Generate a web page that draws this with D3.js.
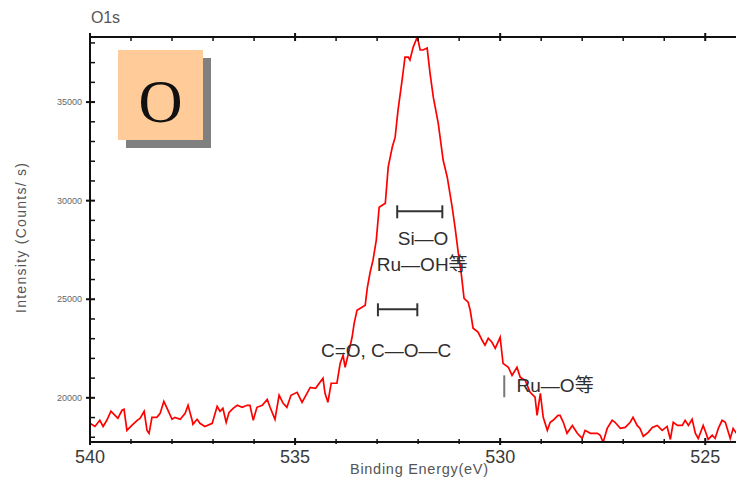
<!DOCTYPE html>
<html><head><meta charset="utf-8">
<script src="https://cdn.jsdelivr.net/npm/d3@7"></script>
<style>body{margin:0;background:#fff;overflow:hidden}</style>
</head><body><svg id="c" width="736" height="478"></svg>
<script>
// ---- data ----
const energy = [540.00,539.88,539.76,539.68,539.59,539.49,539.39,539.32,539.22,539.17,539.10,538.98,538.85,538.78,538.68,538.61,538.56,538.49,538.37,538.29,538.20,538.12,538.00,537.93,537.80,537.68,537.61,537.51,537.49,537.39,537.32,537.20,537.02,536.90,536.83,536.76,536.68,536.61,536.51,536.41,536.29,536.17,536.10,536.02,535.93,535.80,535.68,535.61,535.49,535.39,535.29,535.20,535.10,534.95,534.83,534.63,534.50,534.32,534.27,534.20,534.12,533.98,533.90,533.83,533.78,533.71,533.61,533.56,533.49,533.37,533.29,533.24,533.17,533.10,533.02,532.95,532.80,532.73,532.63,532.56,532.49,532.39,532.32,532.24,532.20,532.12,532.02,531.95,531.88,531.78,531.71,531.63,531.51,531.39,531.29,531.17,531.10,531.02,530.95,530.88,530.78,530.73,530.66,530.54,530.44,530.37,530.29,530.20,530.12,530.00,529.93,529.80,529.71,529.59,529.51,529.39,529.27,529.15,529.10,529.02,528.95,528.85,528.78,528.71,528.59,528.54,528.46,528.37,528.24,528.12,528.00,527.93,527.80,527.63,527.56,527.49,527.39,527.27,527.20,527.07,526.95,526.83,526.76,526.66,526.59,526.51,526.39,526.29,526.17,526.05,525.93,525.85,525.78,525.68,525.56,525.49,525.41,525.32,525.24,525.17,525.05,524.98,524.93,524.83,524.76,524.68,524.59,524.51,524.39,524.32,524.24];
const counts = [18710,18550,18860,18550,18860,19320,19110,18960,19370,19420,18350,18600,18860,18960,19320,18350,18200,19010,19010,19210,19820,19470,18910,19010,18910,19210,19620,18860,18660,18910,18710,18550,18710,19570,19320,19470,18760,19260,19470,19620,19520,19620,19620,18860,19520,19620,19920,19520,18910,20130,19720,19520,20130,20280,19770,20530,20480,20990,20230,19770,20740,20740,21750,22160,21550,22160,23070,23780,24440,24590,24700,25560,26370,26980,28000,29670,29870,31700,32720,33220,34590,36120,37280,37280,37130,37790,38300,37640,37640,37740,36470,35250,33930,32060,31190,29670,28650,27340,26320,25050,24850,24440,23530,23330,22920,22670,23020,22820,22510,23070,21750,21550,21140,21550,21040,20890,20280,20030,19110,20230,19010,18350,18760,18860,19110,19110,18760,18200,18600,18200,17940,18350,18200,18200,18100,17740,18450,18860,18760,18450,18500,18760,19010,18600,18450,18050,18250,18500,18600,18350,18550,17890,18760,18600,18600,18860,18600,18910,18200,17940,18600,18200,17890,18100,17940,18450,18860,18760,17940,18450,18200];

const xDomain = [540, 524.25];
const yDomain = [17760, 38300];
const xMajorTicks = [540, 535, 530, 525];
const xTickLabels = ["540", "535", "530", "525"];
const yMajorTicks = [20000, 25000, 30000, 35000];
const yTickLabels = ["20000", "25000", "30000", "35000"];
const xMinorTicks = [539,538,537,536,534,533,532,531,529,528,527,526];
const yMinorTicks = [18000,19000,21000,22000,23000,24000,26000,27000,28000,29000,31000,32000,33000,34000,36000,37000,38000];

const titleText = "O1s";
const xTitle = "Binding Energy(eV)";
const yTitle = "Intensity (Counts/ s)";
const badgeText = "O";

// range bars (energy from, energy to, count level)
const barFrom = [532.51, 532.98];
const barTo = [531.41, 532.02];
const barLevel = [29460, 24490];
// annotation labels
const noteTexts = ["Si—O", "Ru—OH等", "C=O, C—O—C", "Ru—O等"];
const noteEnergy = [531.88, 531.90, 532.78, 528.66];
const noteCounts = [28100, 26780, 22410, 20640];
// marker for Ru-O
const markEnergy = 529.90;
const markCounts = [21140, 20030];

// ---- drawing ----
const svg = d3.select("#c");
const W = 736, H = 478;
const L = 90, R = 736, T = 37, B = 442;
const x = d3.scaleLinear().domain(xDomain).range([L, R]);
const y = d3.scaleLinear().domain(yDomain).range([B, T]);

svg.append("rect").attr("width", W).attr("height", H).attr("fill", "#fff");

svg.append("defs").append("clipPath").attr("id", "plot")
  .append("rect").attr("x", L).attr("y", T).attr("width", R - L).attr("height", B - T);

// badge
svg.append("rect").attr("x", 126).attr("y", 58).attr("width", 85).attr("height", 90).attr("fill", "#808080");
svg.append("rect").attr("x", 118).attr("y", 50).attr("width", 85).attr("height", 90).attr("fill", "#FFCC99");
svg.append("text").attr("x", 160.5).attr("y", 122).attr("text-anchor", "middle")
  .attr("font-family", "Liberation Serif, serif").attr("font-size", 61).attr("fill", "#111").text(badgeText);

// data line
const pts = energy.map((e, i) => [e, counts[i]]);
svg.append("path").attr("clip-path", "url(#plot)")
  .attr("d", d3.line().x(d => x(d[0])).y(d => y(d[1]))(pts))
  .attr("fill", "none").attr("stroke", "#ff0000").attr("stroke-width", 1.7).attr("stroke-linejoin", "miter");

// axes lines
const ax = svg.append("g").attr("stroke", "#111").attr("stroke-width", 2);
ax.append("line").attr("x1", L).attr("x2", R).attr("y1", B).attr("y2", B);
ax.append("line").attr("x1", L).attr("x2", R).attr("y1", T).attr("y2", T);
ax.append("line").attr("x1", L).attr("x2", L).attr("y1", T - 4).attr("y2", B + 3);

// x ticks bottom & top
xMajorTicks.forEach(v => {
  ax.append("line").attr("x1", x(v)).attr("x2", x(v)).attr("y1", B - 4).attr("y2", B + 3);
  ax.append("line").attr("x1", x(v)).attr("x2", x(v)).attr("y1", T - 4).attr("y2", T + 4);
});
xMinorTicks.forEach(v => {
  ax.append("line").attr("x1", x(v)).attr("x2", x(v)).attr("y1", B - 3).attr("y2", B + 2).attr("stroke-width", 1.5);
  ax.append("line").attr("x1", x(v)).attr("x2", x(v)).attr("y1", T).attr("y2", T + 4).attr("stroke-width", 1.5);
});
// y ticks
yMajorTicks.forEach(v => {
  ax.append("line").attr("x1", L - 4).attr("x2", L + 5).attr("y1", y(v)).attr("y2", y(v));
});
yMinorTicks.forEach(v => {
  ax.append("line").attr("x1", L).attr("x2", L + 5).attr("y1", y(v)).attr("y2", y(v)).attr("stroke-width", 1.5);
});

// tick labels
svg.append("g").selectAll("text").data(xMajorTicks).join("text")
  .attr("x", d => x(d)).attr("y", 463).attr("text-anchor", "middle")
  .attr("font-family", "Liberation Sans, Arial, sans-serif").attr("font-size", 18).attr("fill", "#3a3a3a")
  .text((d, i) => xTickLabels[i]);
svg.append("g").selectAll("text").data(yMajorTicks).join("text")
  .attr("x", 82).attr("y", d => y(d)).attr("dy", "0.35em").attr("text-anchor", "end")
  .attr("font-family", "Liberation Sans, Arial, sans-serif").attr("font-size", 9).attr("fill", "#666")
  .text((d, i) => yTickLabels[i]);

// titles
svg.append("text").attr("x", 91).attr("y", 23).attr("font-family", "Liberation Sans, Arial, sans-serif")
  .attr("font-size", 16).attr("fill", "#555").attr("textLength", 29).attr("lengthAdjust", "spacing").text(titleText);
svg.append("text").attr("x", 350).attr("y", 474)
  .attr("font-family", "Liberation Sans, Arial, sans-serif").attr("font-size", 14.5).attr("fill", "#555")
  .attr("textLength", 138).attr("lengthAdjust", "spacing").text(xTitle);
svg.append("text").attr("transform", "translate(26,313) rotate(-90)")
  .attr("font-family", "Liberation Sans, Arial, sans-serif").attr("font-size", 14).attr("fill", "#555")
  .attr("textLength", 150).attr("lengthAdjust", "spacing").text(yTitle);

// range bars
const bars = svg.append("g").attr("stroke", "#333").attr("stroke-width", 2);
barFrom.forEach((f, i) => {
  const yy = y(barLevel[i]);
  bars.append("line").attr("x1", x(f)).attr("x2", x(barTo[i])).attr("y1", yy).attr("y2", yy);
  bars.append("line").attr("x1", x(f)).attr("x2", x(f)).attr("y1", yy - 6).attr("y2", yy + 7);
  bars.append("line").attr("x1", x(barTo[i])).attr("x2", x(barTo[i])).attr("y1", yy - 6).attr("y2", yy + 7);
});
svg.append("line").attr("x1", x(markEnergy)).attr("x2", x(markEnergy))
  .attr("y1", y(markCounts[0])).attr("y2", y(markCounts[1])).attr("stroke", "#777").attr("stroke-width", 2);

// annotation texts
svg.append("g").selectAll("text").data(noteTexts).join("text")
  .attr("x", (d, i) => x(noteEnergy[i])).attr("y", (d, i) => y(noteCounts[i]))
  .attr("dy", "0.36em").attr("text-anchor", "middle")
  .attr("font-family", "Liberation Sans, Noto Sans CJK JP, sans-serif").attr("font-size", 19).attr("fill", "#2e2e2e")
  .text(d => d);
</script></body></html>
